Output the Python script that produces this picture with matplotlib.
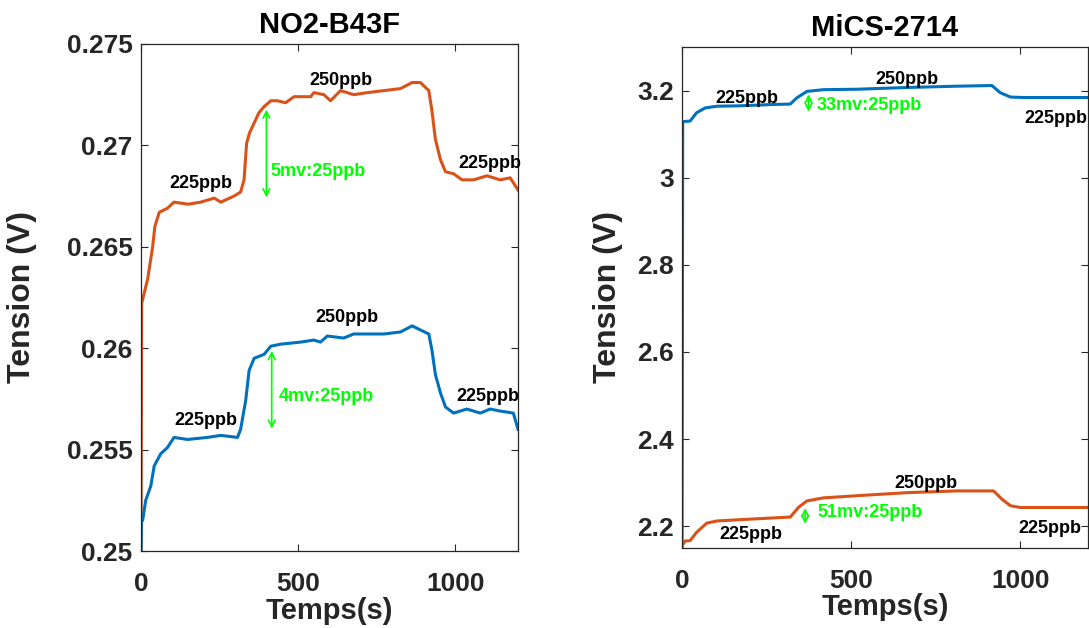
import numpy as np
import matplotlib
matplotlib.use("Agg")
import matplotlib.pyplot as plt

plt.rcParams["font.family"] = ["Liberation Sans", "DejaVu Sans"]
plt.rcParams["font.weight"] = "bold"

BLUE = "#0072BD"
ORANGE = "#D95319"
GREEN = "#00FF00"

# ---- NO2-B43F : orange curve (V) ----
no2_or_t = [0, 2, 5, 21, 37, 44, 58, 84, 105, 150, 190, 233, 254, 296, 317, 328, 336,
            345, 360, 375, 391, 413, 434, 460, 487, 540, 550, 582, 603, 635, 677, 720, 773, 826,
            863, 889, 916, 926, 937, 953, 969, 995, 1022, 1059, 1101, 1143, 1175, 1200]
no2_or_v = [0.2490, 0.2622, 0.2624, 0.2634, 0.2650, 0.2660, 0.2667, 0.2669, 0.2672, 0.2671,
            0.2672, 0.2674, 0.2672, 0.2675, 0.2677, 0.2683, 0.2701, 0.2706, 0.2711, 0.2716,
            0.2719, 0.2722, 0.2722, 0.2721, 0.2724, 0.2724, 0.2726, 0.2725, 0.2722, 0.2727,
            0.2725, 0.2726, 0.2727, 0.2728, 0.2731, 0.2731, 0.2727, 0.2717, 0.2703, 0.2693,
            0.2687, 0.2686, 0.2683, 0.2683, 0.2685, 0.2683, 0.2684, 0.2678]

# ---- NO2-B43F : blue curve (V) ----
no2_bl_t = [0, 2, 5, 15, 31, 42, 63, 84, 105, 148, 211, 254, 307, 317, 333, 344, 360,
            392, 413, 445, 508, 550, 571, 593, 645, 677, 720, 773, 826, 863, 889, 916,
            926, 937, 953, 969, 995, 1037, 1080, 1111, 1143, 1185, 1200]
no2_bl_v = [0.2498, 0.2518, 0.2515, 0.2525, 0.2532, 0.2542, 0.2548, 0.2551, 0.2556, 0.2555,
            0.2556, 0.2557, 0.2556, 0.2560, 0.2574, 0.2589, 0.2595, 0.2597, 0.2601, 0.2602,
            0.2603, 0.2604, 0.2603, 0.2606, 0.2605, 0.2607, 0.2607, 0.2607, 0.2608, 0.2611,
            0.2609, 0.2607, 0.2599, 0.2587, 0.2578, 0.2571, 0.2568, 0.2570, 0.2568, 0.2570,
            0.2569, 0.2568, 0.2560]

# ---- MiCS-2714 : blue curve (V) ----
mics_bl_t = [0, 2, 7, 24, 43, 68, 103, 172, 270, 320, 339, 369, 418, 517, 665, 813, 916,
             941, 971, 1010, 1200]
mics_bl_v = [2.15, 3.128, 3.129, 3.130, 3.149, 3.160, 3.164, 3.165, 3.168, 3.169, 3.183,
             3.198, 3.202, 3.203, 3.207, 3.210, 3.2115, 3.195, 3.185, 3.184, 3.184]

# ---- MiCS-2714 : orange curve (V) ----
mics_or_t = [0, 9, 24, 43, 73, 103, 172, 270, 320, 344, 369, 418, 517, 665, 813, 921, 946,
             971, 1000, 1200]
mics_or_v = [2.155, 2.166, 2.167, 2.186, 2.207, 2.212, 2.215, 2.219, 2.221, 2.243, 2.258,
             2.265, 2.270, 2.277, 2.281, 2.281, 2.262, 2.247, 2.243, 2.243]

# labels: (t, v, text, color, ha)
no2_labels = [(190, 0.2681, "225ppb", "k", "center"),
              (635, 0.2732, "250ppb", "k", "center"),
              (1111, 0.2691, "225ppb", "k", "center"),
              (413, 0.2687, "5mv:25ppb", GREEN, "left"),
              (206, 0.25643, "225ppb", "k", "center"),
              (656, 0.2615, "250ppb", "k", "center"),
              (1103, 0.2576, "225ppb", "k", "center"),
              (439, 0.2576, "4mv:25ppb", GREEN, "left")]
no2_arrows = [(399, 0.2719, 0.2673), (416, 0.2600, 0.2559)]

mics_labels = [(191, 3.181, "225ppb", "k", "center"),
               (665, 3.225, "250ppb", "k", "center"),
               (1104, 3.135, "225ppb", "k", "center"),
               (399, 3.1655, "33mv:25ppb", GREEN, "left"),
               (203, 2.1816, "225ppb", "k", "center"),
               (722, 2.2982, "250ppb", "k", "center"),
               (1089, 2.1947, "225ppb", "k", "center"),
               (400, 2.2315, "51mv:25ppb", GREEN, "left")]
mics_arrows = [(374, 3.198, 3.145), (364, 2.248, 2.199)]

fig = plt.figure(figsize=(10.89, 6.28), dpi=100)
ax1 = fig.add_axes([0.1295, 0.1226, 0.3462, 0.8074])
ax2 = fig.add_axes([0.6263, 0.1274, 0.3727, 0.7978])


def style(ax, title, ylim, yticks, yfmt):
    ax.set_xlim(0, 1200)
    ax.set_ylim(*ylim)
    ax.set_xticks([0, 500, 1000])
    ax.set_yticks(yticks)
    ax.set_yticklabels([yfmt(v) for v in yticks])
    ax.tick_params(direction="in", top=True, right=True, length=5, width=0.8,
                   labelsize=19, colors="#262626", pad=6)
    ax.tick_params(axis="x", pad=15)
    for lab in ax.get_xticklabels() + ax.get_yticklabels():
        lab.set_fontweight("bold")
    for s in ax.spines.values():
        s.set_color("#262626")
        s.set_linewidth(0.9)
    ax.set_title(title, fontsize=21, fontweight="bold", pad=8)
    ax.set_xlabel("Temps(s)", fontsize=21, fontweight="bold", color="#262626")
    ax.set_ylabel("Tension (V)", fontsize=23, fontweight="bold", color="#262626")


def annotate(ax, labels, arrows):
    for t, v, txt, c, ha in labels:
        ax.text(t, v, txt, color=c, ha=ha, va="center", fontsize=13,
                fontweight="bold", clip_on=False)
    for t, v0, v1 in arrows:
        ax.annotate("", xy=(t, v0), xytext=(t, v1),
                    arrowprops=dict(arrowstyle="<->", color=GREEN, lw=1.2,
                                    mutation_scale=12))


ax1.plot(no2_or_t, no2_or_v, color=ORANGE, lw=2.2)
ax1.plot(no2_bl_t, no2_bl_v, color=BLUE, lw=2.2)
style(ax1, "NO2-B43F", (0.25, 0.275), [0.25, 0.255, 0.26, 0.265, 0.27, 0.275],
      lambda v: ("%.3f" % v).rstrip("0"))
annotate(ax1, no2_labels, no2_arrows)
ax1.yaxis.set_label_coords(-0.276, 0.5)
ax1.xaxis.set_label_coords(0.5, -0.09)

ax2.plot(mics_bl_t, mics_bl_v, color=BLUE, lw=2.2)
ax2.plot(mics_or_t, mics_or_v, color=ORANGE, lw=2.2)
style(ax2, "MiCS-2714", (2.15, 3.3), [2.2, 2.4, 2.6, 2.8, 3.0, 3.2],
      lambda v: ("%.1f" % v).rstrip("0").rstrip("."))
annotate(ax2, mics_labels, mics_arrows)
ax2.yaxis.set_label_coords(-0.145, 0.5)
ax2.xaxis.set_label_coords(0.5, -0.09)

fig.savefig("out.png", dpi=100)
